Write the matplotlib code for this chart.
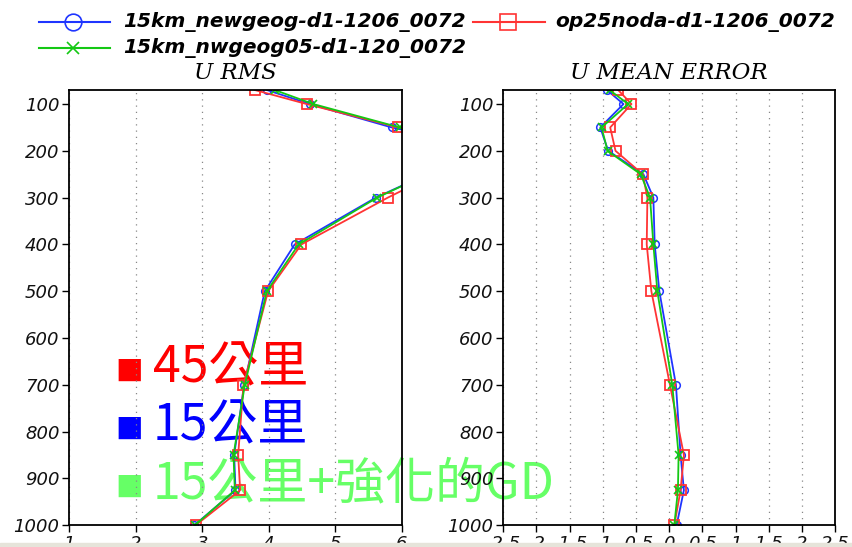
import matplotlib
matplotlib.use("Agg")
import matplotlib.pyplot as plt
from matplotlib.lines import Line2D
from matplotlib.patches import Rectangle
from matplotlib.ticker import FuncFormatter

# ---- data -------------------------------------------------------------
levels = [70, 100, 150, 200, 250, 300, 400, 500, 700, 850, 925, 1000]

series_names = ["15km_newgeog-d1-1206_0072",
                "op25noda-d1-1206_0072",
                "15km_nwgeog05-d1-120_0072"]

rms_newgeog = [3.97, 4.62, 5.85, 7.5, 6.38, 5.61, 4.39, 3.94, 3.63, 3.48, 3.50, 2.88]
rms_op25noda = [3.79, 4.57, 5.95, 7.6, 6.50, 5.79, 4.49, 3.99, 3.62, 3.54, 3.57, 2.90]
rms_nwgeog05 = [4.09, 4.67, 5.97, 7.5, 6.38, 5.63, 4.45, 3.97, 3.64, 3.47, 3.49, 2.89]

me_newgeog = [-0.94, -0.69, -1.04, -0.92, -0.39, -0.24, -0.22, -0.15, 0.10, 0.17, 0.22, 0.11]
me_op25noda = [-0.77, -0.57, -0.89, -0.81, -0.40, -0.33, -0.34, -0.27, 0.01, 0.22, 0.17, 0.075]
me_nwgeog05 = [-0.90, -0.62, -1.02, -0.93, -0.43, -0.29, -0.24, -0.18, 0.045, 0.14, 0.13, 0.075]

pressure_ticks = [100, 200, 300, 400, 500, 600, 700, 800, 900, 1000]
rms_ticks = [1, 2, 3, 4, 5, 6]
me_ticks = [-2.5, -2, -1.5, -1, -0.5, 0, 0.5, 1, 1.5, 2, 2.5]

notes = ["45公里", "15公里", "15公里+強化的GD"]

# ---- styles -----------------------------------------------------------
BLUE, RED, GREEN = "#1f35ff", "#ff3434", "#14c814"
styles = [dict(color=BLUE, marker="o", ms=5.5, mfc="none", mew=1.1),
          dict(color=RED, marker="s", ms=7.5, mfc="none", mew=1.3),
          dict(color=GREEN, marker="x", ms=5.5, mew=1.2)]
draw_order = [0, 1, 2]

W, H = 853, 547
fig = plt.figure(figsize=(W / 100, H / 100), dpi=100)


def fx(px):
    return px / W


def fy(py):
    return 1 - py / H


tick_font = dict(family="DejaVu Sans", style="italic", size=13)


def setup(ax, xlim, xticks):
    ax.set_facecolor("none")
    ax.set_xlim(*xlim)
    ax.set_ylim(1000, 70)
    ax.set_xticks(xticks)
    ax.set_yticks(pressure_ticks)
    ax.xaxis.set_major_formatter(FuncFormatter(lambda v, p: "%g" % v))
    ax.grid(axis="x", linestyle=(0, (1, 4)), color="#888888", linewidth=0.9)
    ax.tick_params(direction="out", length=5, width=1, pad=2, colors="black")
    for lab in ax.get_xticklabels() + ax.get_yticklabels():
        lab.set_fontfamily(tick_font["family"])
        lab.set_fontstyle(tick_font["style"])
        lab.set_fontsize(tick_font["size"])
        lab.set_color("#111111")
    for s in ax.spines.values():
        s.set_linewidth(1.3)


axL = fig.add_axes([fx(69.3), fy(525.3), fx(401.7) - fx(69.3), fy(90) - fy(525.3)])
axR = fig.add_axes([fx(503.3), fy(525.3), fx(835.3) - fx(503.3), fy(90) - fy(525.3)])

setup(axL, (1, 6), rms_ticks)
setup(axR, (-2.5, 2.5), me_ticks)

rms = [rms_newgeog, rms_op25noda, rms_nwgeog05]
me = [me_newgeog, me_op25noda, me_nwgeog05]
for i in draw_order:
    axL.plot(rms[i], levels, lw=1.3, **styles[i])
    axR.plot(me[i], levels, lw=1.3, **styles[i])

# ---- titles -----------------------------------------------------------
title_font = dict(family="DejaVu Serif", style="italic", size=16.5)
fig.text(fx(235.5), fy(73), "U RMS", ha="center", va="center", **title_font)
fig.text(fx(669), fy(73), "U MEAN ERROR", ha="center", va="center", **title_font)

# ---- legend -----------------------------------------------------------
leg_font = dict(family="DejaVu Sans", style="italic", weight="bold", size=14.5)
leg_rows = [(39, 110, 73, 123, 22), (473, 545, 508, 555, 22), (39, 110, 73, 123, 48)]
leg_ms = [12, 12, 9]
for i, (x0, x1, xm, xt, yy) in enumerate(leg_rows):
    st = styles[i]
    fig.add_artist(Line2D([fx(x0), fx(x1)], [fy(yy), fy(yy)], color=st["color"],
                          lw=1.5, transform=fig.transFigure))
    fig.add_artist(Line2D([fx(xm)], [fy(yy)], color=st["color"], marker=st["marker"],
                          ms=leg_ms[i], mfc="none" if st["marker"] != "x" else st["color"],
                          mew=1.2, ls="none", transform=fig.transFigure))
    fig.text(fx(xt), fy(yy), series_names[i], va="center", ha="left", **leg_font)

# ---- resolution notes -------------------------------------------------
note_colors = ["#ff0000", "#0000ff", "#66ff66"]
note_base = [382, 440, 498]
for txt, col, yb in zip(notes, note_colors, note_base):
    fig.text(fx(115), fy(yb - 12), "■", color=col, fontsize=21, family="DejaVu Sans",
             ha="left", va="center", zorder=-1)
    fig.text(fx(153), fy(yb), txt, color=col, fontsize=36,
             family=["Noto Sans CJK TC", "DejaVu Sans"], ha="left", va="baseline",
             zorder=-1)

# bottom strip
fig.add_artist(Rectangle((0, 0), 1, 4 / H, transform=fig.transFigure,
                         color="#e6e4da", zorder=10))

fig.savefig("out.png", dpi=100)
